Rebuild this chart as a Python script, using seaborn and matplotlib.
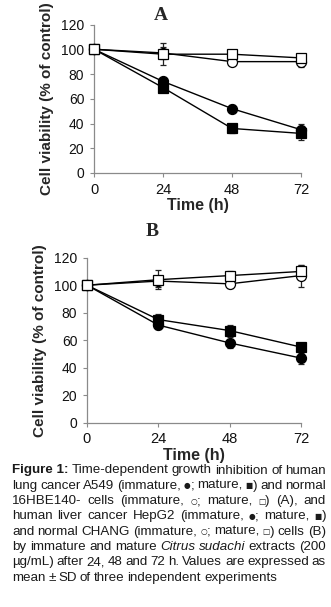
import matplotlib
matplotlib.use("Agg")
import matplotlib.pyplot as plt
import seaborn as sns
import pandas as pd
import numpy as np

sns.set_theme(style="white")
plt.rcParams['font.family'] = ['Liberation Sans', 'DejaVu Sans']

# ---- data ----
time_h = [0, 24, 48, 72]
xticks = [0, 24, 48, 72]
yticks = [0, 20, 40, 60, 80, 100, 120]

# Panel A: A549 (cancer) and 16HBE140- (normal)
a_imm_cancer = [100, 74, 52, 35]
a_imm_cancer_sd = [0, 3, 3, 5]
a_mat_cancer = [100, 69, 36, 32]
a_mat_cancer_sd = [0, 3, 4, 5]
a_imm_normal = [100, 97, 90, 90]
a_imm_normal_sd = [0, 5, 3, 4]
a_mat_normal = [100, 96, 96, 93]
a_mat_normal_sd = [0, 9, 3, 3]

# Panel B: HepG2 (cancer) and CHANG (normal)
b_imm_cancer = [100, 71, 58, 47]
b_imm_cancer_sd = [0, 3, 4, 4]
b_mat_cancer = [100, 75, 67, 55]
b_mat_cancer_sd = [0, 4, 4, 2]
b_imm_normal = [100, 103, 101, 107]
b_imm_normal_sd = [0, 4, 3, 8]
b_mat_normal = [100, 104, 107, 110]
b_mat_normal_sd = [0, 7, 3, 5]

series_names = ["imm_cancer", "mat_cancer", "imm_normal", "mat_normal"]
marker_map = {"imm_cancer": "o", "mat_cancer": "s", "imm_normal": "o", "mat_normal": "s"}
face_map = {"imm_cancer": "black", "mat_cancer": "black", "imm_normal": "white", "mat_normal": "white"}

W, H = 331, 607
fig = plt.figure(figsize=(W / 100, H / 100), dpi=100)


def panel(rect, vals, sds, title, title_xy):
    ax = fig.add_axes(rect)
    rows = []
    for name, v in zip(series_names, vals):
        for t, y in zip(time_h, v):
            rows.append({"time": t, "val": y, "series": name})
    df = pd.DataFrame(rows)
    for name, v, sd in zip(series_names, vals, sds):
        ax.errorbar(time_h, v, yerr=sd, fmt="none", ecolor="#222222",
                    elinewidth=0.9, capsize=2.5, capthick=0.9, zorder=2, clip_on=False)
    sns.lineplot(data=df, x="time", y="val", hue="series", style="series",
                 palette={n: "black" for n in series_names},
                 markers=marker_map, dashes=False, ax=ax, legend=False,
                 linewidth=1.0, zorder=3)
    for line, name in zip(ax.lines[-4:], series_names):
        line.set_markerfacecolor(face_map[name])
        line.set_markeredgecolor("black")
        line.set_markersize(6.8 if marker_map[name] == "s" else 7.2)
        line.set_markeredgewidth(0.9)
        line.set_clip_on(False)
    ax.set_xlim(0, 72)
    ax.set_ylim(0, 120)
    ax.set_xticks(xticks)
    ax.set_yticks(yticks)
    ax.set_xticklabels([str(t) for t in xticks], fontsize=10.5, color="#111111")
    ax.set_yticklabels([str(t) for t in yticks], fontsize=10, color="#111111")
    for s in ["top", "right"]:
        ax.spines[s].set_visible(False)
    for s in ["left", "bottom"]:
        ax.spines[s].set_color("#8a8a8a")
        ax.spines[s].set_linewidth(0.9)
    ax.tick_params(axis="both", direction="out", length=3, width=0.8, color="#8a8a8a", pad=4, left=True, bottom=True)
    ax.set_xlabel("Time (h)", fontsize=11.5, fontweight="bold", labelpad=1)
    ax.set_ylabel("Cell viability (% of control)", fontsize=11, fontweight="bold", labelpad=5)
    ax.grid(False)
    fig.text(title_xy[0] / W, 1 - title_xy[1] / H, title, fontsize=14, fontweight="bold",
             family="Liberation Serif", ha="center", va="center")
    return ax


axA = panel([94 / W, 1 - 173 / H, (301 - 94) / W, (173 - 24.5) / H],
            [a_imm_cancer, a_mat_cancer, a_imm_normal, a_mat_normal],
            [a_imm_cancer_sd, a_mat_cancer_sd, a_imm_normal_sd, a_mat_normal_sd],
            "A", (161, 15))
axB = panel([87 / W, 1 - 422.7 / H, (301 - 87) / W, (422.7 - 257.7) / H],
            [b_imm_cancer, b_mat_cancer, b_imm_normal, b_mat_normal],
            [b_imm_cancer_sd, b_mat_cancer_sd, b_imm_normal_sd, b_mat_normal_sd],
            "B", (152, 232))

# ---- caption (justified) ----
caption_lines = [
    [("Figure 1:", "bold"), ("Time-dependent", "n"), ("growth", "n"), ("inhibition", "n"), ("of", "n"), ("human", "n")],
    [("lung", "n"), ("cancer", "n"), ("A549", "n"), ("(immature,", "n"), ("\u25cf", "sym"), (";", "glue"), ("mature,", "n"), ("\u25a0", "sym"), (")", "glue"), ("and", "n"), ("normal", "n")],
    [("16HBE140-", "n"), ("cells", "n"), ("(immature,", "n"), ("\u25cb", "sym"), (";", "glue"), ("mature,", "n"), ("\u25a1", "sym"), (")", "glue"), ("(A),", "n"), ("and", "n")],
    [("human", "n"), ("liver", "n"), ("cancer", "n"), ("HepG2", "n"), ("(immature,", "n"), ("\u25cf", "sym"), (";", "glue"), ("mature,", "n"), ("\u25a0", "sym"), (")", "glue")],
    [("and", "n"), ("normal", "n"), ("CHANG", "n"), ("(immature,", "n"), ("\u25cb", "sym"), (";", "glue"), ("mature,", "n"), ("\u25a1", "sym"), (")", "glue"), ("cells", "n"), ("(B)", "n")],
    [("by", "n"), ("immature", "n"), ("and", "n"), ("mature", "n"), ("Citrus", "it"), ("sudachi", "it"), ("extracts", "n"), ("(200", "n")],
    [("\u00b5g/mL)", "n"), ("after", "n"), ("24,", "n"), ("48", "n"), ("and", "n"), ("72", "n"), ("h.", "n"), ("Values", "n"), ("are", "n"), ("expressed", "n"), ("as", "n")],
    [("mean", "n"), ("\u00b1", "n"), ("SD", "n"), ("of", "n"), ("three", "n"), ("independent", "n"), ("experiments", "n")],
]

fig.canvas.draw()
renderer = fig.canvas.get_renderer()
cap_fs = 9.6
left_px, right_px = 12, 326
y0, dy = 470.5, 15.3
for i, line in enumerate(caption_lines):
    texts, glue = [], []
    for word, st in line:
        kw = dict(fontsize=cap_fs, color="#1a1a1a", va="center", ha="left")
        if st == "bold":
            kw["fontweight"] = "bold"
        if st == "it":
            kw["style"] = "italic"
        if st == "sym":
            kw["fontsize"] = 5.5
            kw["family"] = "DejaVu Sans"
        t = fig.text(0, 0, word, **kw)
        texts.append(t)
        glue.append(st == "glue")
    widths = [t.get_window_extent(renderer).width for t in texts]
    total = sum(widths)
    n_gaps = sum(1 for g in glue[1:] if not g)
    if i < len(caption_lines) - 1 and n_gaps > 0:
        gap = (right_px - left_px - total) / n_gaps
    else:
        gap = 2.9
    x = left_px
    y = y0 + i * dy
    for k, (t, w) in enumerate(zip(texts, widths)):
        if k > 0 and not glue[k]:
            x += gap
        t.set_position((x / W, 1 - y / H))
        x += w

fig.savefig("out.png", dpi=100)
